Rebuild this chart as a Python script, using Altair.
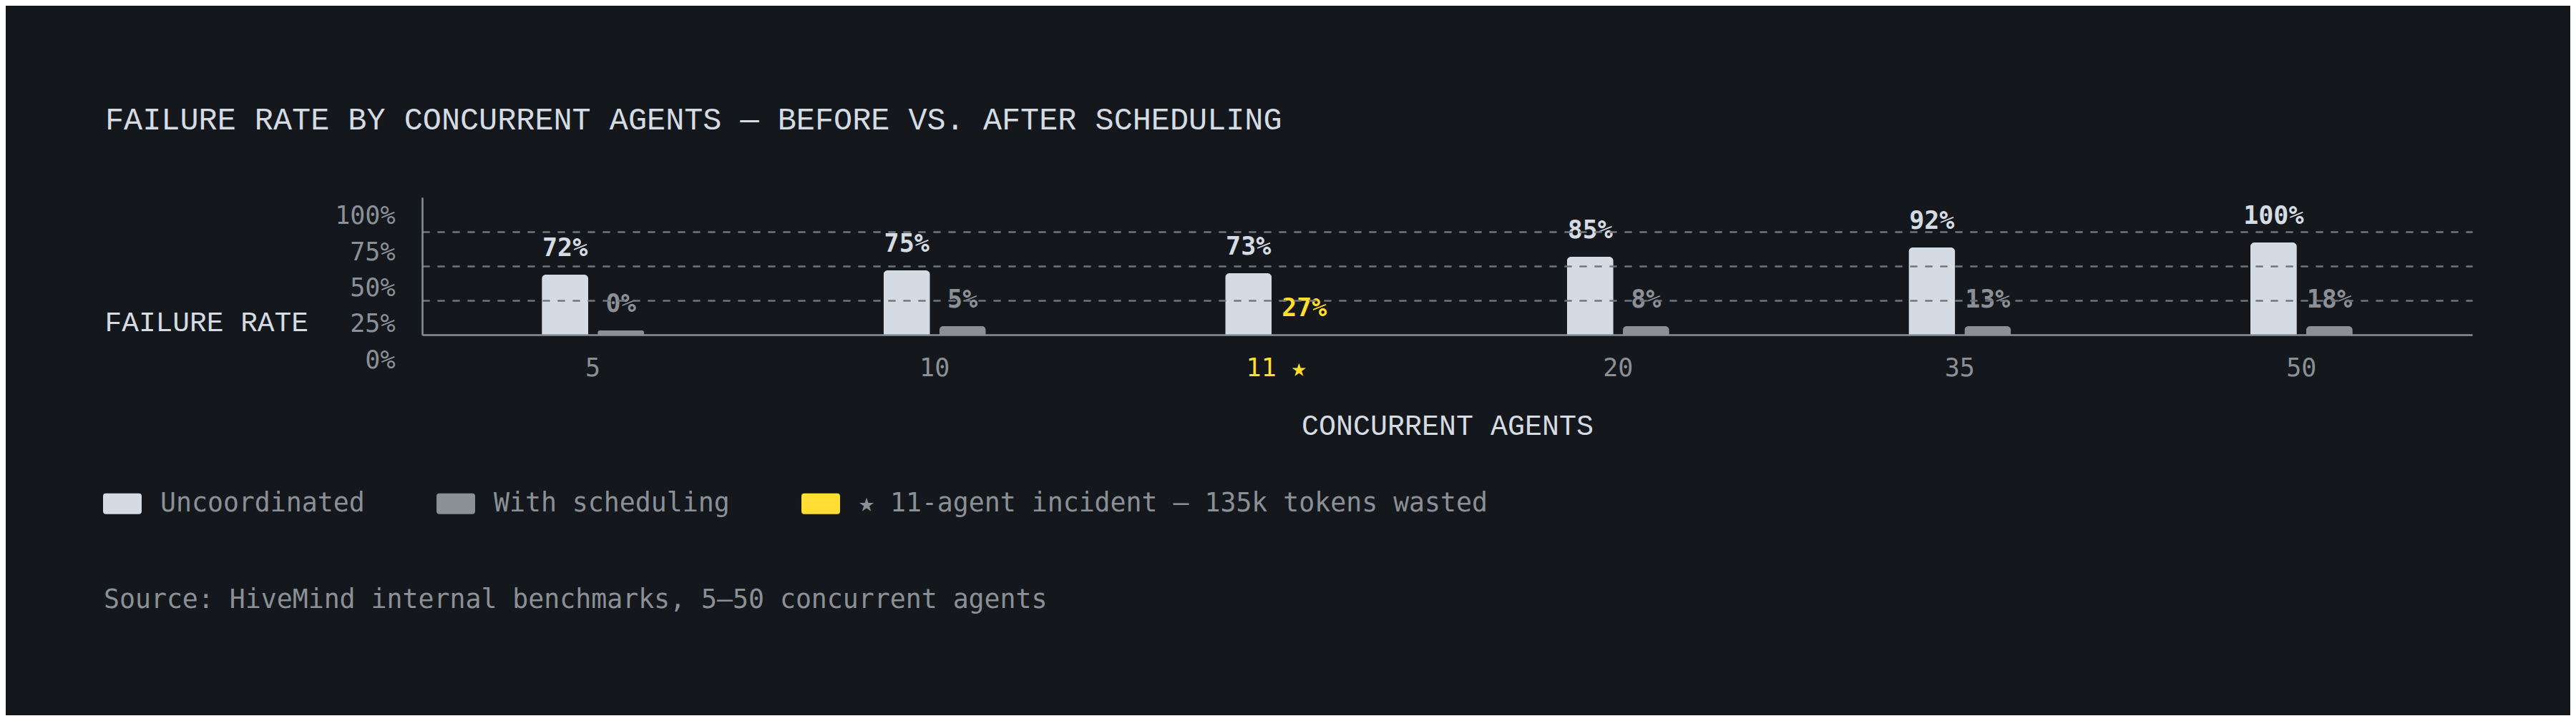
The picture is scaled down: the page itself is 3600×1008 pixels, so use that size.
import altair as alt
import pandas as pd

# ---- data ----
AGENTS = ["5", "10", "11", "20", "35", "50"]
UNCOORD_PCT = [72, 75, 73, 85, 92, 100]          # printed failure rates, uncoordinated
SCHED_PCT = [0, 5, 27, 8, 13, 18]                # printed failure rates, with scheduling
UNCOORD_BAR = [43.8, 46.9, 44.8, 56.8, 63.5, 67.2]  # drawn bar heights (% of plot height)
SCHED_BAR = [3.1, 6.4, 0.0, 6.3, 6.3, 6.3]          # drawn bar heights (% of plot height)
INCIDENT = "11"
Y_TICKS = [0, 25, 50, 75, 100]
GRID_VALUES = [25, 50, 75]

SERIES = ["Uncoordinated", "With scheduling", "★ 11-agent incident — 135k tokens wasted"]
TITLE = "FAILURE RATE BY CONCURRENT AGENTS — BEFORE VS. AFTER SCHEDULING"
X_TITLE = "CONCURRENT AGENTS"
Y_TITLE = "FAILURE RATE"
SOURCE = "Source: HiveMind internal benchmarks, 5–50 concurrent agents"

# ---- style ----
BG = "#14181c"
LIGHT = "#d4dbe2"
GRAY = "#8b9097"
YELLOW = "#ffdd33"
GRID_C = "#70767d"
MONO = "DejaVu Sans Mono"
WIDE = "Liberation Mono"

rows = []
for i, a in enumerate(AGENTS):
    rows.append({"agents": a, "slot": "u", "series": SERIES[0],
                 "h": UNCOORD_BAR[i], "label": f"{UNCOORD_PCT[i]}%"})
    rows.append({"agents": a, "slot": "s",
                 "series": SERIES[2] if a == INCIDENT else SERIES[1],
                 "h": SCHED_BAR[i], "label": f"{SCHED_PCT[i]}%"})
df = pd.DataFrame(rows)

swatch = ("M-0.852,-0.537 L0.852,-0.537 Q1,-0.537 1,-0.389 L1,0.389 Q1,0.537 0.852,0.537 "
          "L-0.852,0.537 Q-1,0.537 -1,0.389 L-1,-0.389 Q-1,-0.537 -0.852,-0.537 Z")

color = alt.Color(
    "series:N",
    scale=alt.Scale(domain=SERIES, range=[LIGHT, GRAY, YELLOW]),
    legend=alt.Legend(
        title=None, orient="none", direction="horizontal",
        legendX=-446, legendY=401, padding=0,
        symbolType=swatch, symbolSize=2916, symbolStrokeWidth=0, symbolOpacity=1,
        labelFont=MONO, labelFontSize=36.5, labelColor=GRAY, labelOffset=26,
        labelLimit=2000, columnPadding=100, labelBaseline="middle",
    ),
)

x = alt.X(
    "agents:N", sort=AGENTS,
    scale=alt.Scale(paddingInner=0.7005, paddingOuter=0.35),
    axis=alt.Axis(
        title=X_TITLE, titleFont=WIDE, titleFontSize=40, titleFontWeight="normal",
        titleColor=LIGHT, titleBaseline="alphabetic", titleY=139,
        labelAngle=0, labelFont=MONO, labelFontSize=35, labelBaseline="alphabetic",
        labelPadding=57, ticks=False, tickSize=0,
        labelColor={"condition": {"test": f"datum.value == '{INCIDENT}'", "value": YELLOW},
                    "value": GRAY},
        labelExpr=f"datum.value == '{INCIDENT}' ? datum.label + ' ★' : datum.label",
        domainColor=GRAY, domainWidth=2.5, zindex=1,
    ),
)
x_off = alt.XOffset("slot:N", sort=["u", "s"],
                    scale=alt.Scale(paddingInner=0.1667, paddingOuter=0))

y_bar = alt.Y(
    "h:Q", scale=alt.Scale(domain=[0, 100], nice=False),
    axis=alt.Axis(
        orient="left", title=None, labels=False, ticks=False, values=GRID_VALUES,
        domainColor=GRAY, domainWidth=2, grid=True, gridColor=GRID_C, gridWidth=2,
        gridDash=[10, 11], zindex=1,
    ),
)

bars = alt.Chart(df).mark_bar(cornerRadiusTopLeft=6, cornerRadiusTopRight=6).encode(
    x=x, xOffset=x_off, y=y_bar, color=color,
)
labels = alt.Chart(df).mark_text(
    dy=-26, baseline="alphabetic", font=MONO, fontSize=35, fontWeight="bold",
).encode(x=x, xOffset=x_off, y=y_bar, text="label:N", color=color)

ticks_df = pd.DataFrame({"v": Y_TICKS})
yaxis_layer = alt.Chart(ticks_df).mark_point(opacity=0).encode(
    y=alt.Y(
        "v:Q", scale=alt.Scale(domain=[0, 100], range=[238, 36.7], nice=False),
        axis=alt.Axis(
            orient="left", values=Y_TICKS, labelExpr="datum.value + '%'",
            labelFont=MONO, labelFontSize=35, labelColor=GRAY, labelBaseline="alphabetic",
            labelPadding=38, ticks=False, tickSize=0, domain=False, grid=False,
            title=Y_TITLE, titleAngle=0, titleAlign="left", titleBaseline="alphabetic",
            titleX=-444, titleY=186, titleFont=WIDE, titleFontSize=39.5,
            titleFontWeight="normal", titleColor=LIGHT,
        ),
    )
)

source = alt.Chart(pd.DataFrame({"t": [SOURCE]})).mark_text(
    align="left", baseline="alphabetic", font=MONO, fontSize=36.5, color=GRAY,
).encode(text="t:N", x=alt.value(-445), y=alt.value(574))

chart = alt.layer(bars, labels, yaxis_layer, source).resolve_scale(
    y="independent"
).properties(
    width=2865, height=192,
    title=alt.TitleParams(
        text=TITLE, anchor="start", frame="group", dx=-443, offset=52,
        baseline="alphabetic", font=WIDE, fontSize=43.5, fontWeight="normal",
        color=LIGHT, orient="top",
    ),
    autosize=alt.AutoSizeParams(type="none"),
    padding={"left": 582, "top": 268, "right": 137, "bottom": 532},
).configure(
    background=BG,
).configure_view(stroke=None)

chart.save("out.html", embed_options={"renderer": "svg", "actions": False})
